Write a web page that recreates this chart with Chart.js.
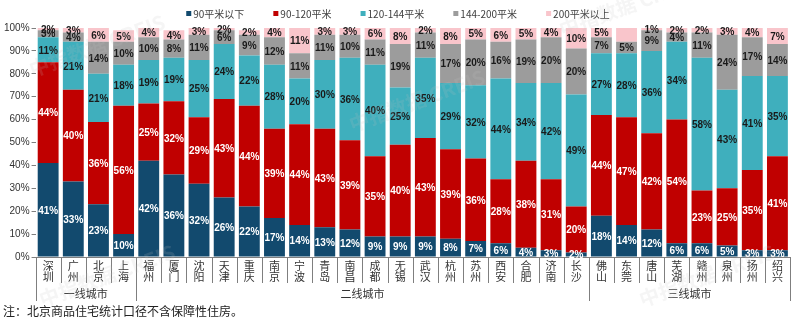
<!DOCTYPE html>
<html>
<head>
<meta charset="utf-8">
<script src="https://cdn.jsdelivr.net/npm/chart.js@4"></script>
<style>
  html, body { margin: 0; padding: 0; background: #fff; }
  #wrap { width: 796px; height: 326px; }
</style>
</head>
<body>
<div id="wrap"><canvas id="areaChart"></canvas></div>
<script>
// Cities and their tier grouping
const cities = ['深圳', '广州', '北京', '上海',
    '福州', '厦门', '沈阳', '天津', '重庆', '南京', '宁波', '青岛', '南昌', '成都', '无锡', '武汉', '杭州', '苏州', '西安', '合肥', '济南', '长沙',
    '佛山', '东莞', '唐山', '芜湖', '赣州', '泉州', '扬州', '绍兴'];
const groupNames = ['一线城市', '二线城市', '三线城市'];
const groupSizes = [4, 18, 8];

// Share of sales by unit size (%)
const below90 = [41, 33, 23, 10, 42, 36, 32, 26, 22, 17, 14, 13, 12, 9, 9, 9, 8, 7, 6, 4, 3, 2, 18, 14, 12, 6, 6, 5, 3, 3];
const from90to120 = [44, 40, 36, 56, 25, 32, 29, 43, 44, 39, 44, 43, 39, 35, 40, 43, 39, 36, 28, 38, 31, 20, 44, 47, 42, 54, 23, 25, 35, 41];
const from120to144 = [11, 21, 21, 18, 19, 19, 25, 24, 22, 28, 20, 30, 36, 40, 25, 35, 29, 32, 44, 34, 42, 49, 27, 28, 36, 34, 58, 43, 41, 35];
const from144to200 = [3, 4, 14, 10, 10, 8, 11, 6, 9, 12, 11, 11, 10, 11, 19, 11, 17, 20, 16, 19, 20, 20, 7, 5, 9, 4, 11, 24, 17, 14];
const above200 = [2, 3, 6, 5, 4, 4, 3, 2, 2, 4, 11, 3, 3, 6, 8, 2, 8, 5, 6, 5, 4, 10, 5, 6, 1, 2, 2, 3, 4, 7];
const yTicks = [0, 10, 20, 30, 40, 50, 60, 70, 80, 90, 100];

const FONT = "'Liberation Sans', 'Noto Sans CJK SC', sans-serif";
const CJK = "'Noto Sans CJK SC', 'Liberation Sans', sans-serif";

// value labels inside every segment
const segmentLabels = {
    id: 'segmentLabels',
    afterDatasetsDraw(chart) {
        const ctx = chart.ctx;
        ctx.save();
        ctx.font = 'bold 10px ' + FONT;
        ctx.textAlign = 'center';
        ctx.textBaseline = 'middle';
        chart.data.datasets.forEach((ds, di) => {
            chart.getDatasetMeta(di).data.forEach((bar, i) => {
                if (ds.skip && ds.skip.includes(i)) return;
                const top = Math.max(bar.y, chart.chartArea.top);
                const y = (top + bar.base) / 2;
                ctx.fillStyle = ds.labelColor;
                ctx.fillText(ds.data[i] + '%', bar.x, y + 1);
            });
        });
        ctx.restore();
    }
};

// compact legend row above the plot
const topLegend = {
    id: 'topLegend',
    afterDraw(chart) {
        const ctx = chart.ctx;
        const gap = 29, box = 5;
        ctx.save();
        ctx.font = '10px ' + CJK;
        ctx.textBaseline = 'middle';
        const items = chart.data.datasets.map(ds => ({ ds, w: box + 2 + ctx.measureText(ds.label).width }));
        const total = items.reduce((s, it) => s + it.w, 0) + gap * (items.length - 1);
        let x = 398 - total / 2;
        items.forEach(it => {
            ctx.fillStyle = it.ds.backgroundColor;
            ctx.fillRect(x, 11, box, box);
            ctx.fillStyle = '#404040';
            ctx.fillText(it.ds.label, x + box + 2, 14);
            x += it.w + gap;
        });
        ctx.restore();
    }
};

// category separators, tier brackets, note and watermark
const tierAxis = {
    id: 'tierAxis',
    afterDraw(chart) {
        const ctx = chart.ctx;
        const xs = chart.scales.x;
        const area = chart.chartArea;
        const bottom = area.bottom;
        const edge = i => {
            if (i <= 0) return area.left;
            if (i >= cities.length) return area.right;
            return (xs.getPixelForValue(i - 1) + xs.getPixelForValue(i)) / 2;
        };
        ctx.save();
        ctx.strokeStyle = '#7f7f7f';
        ctx.lineWidth = 1;
        const starts = [0];
        groupSizes.forEach((n, g) => starts.push(starts[g] + n));
        for (let i = 0; i <= cities.length; i++) {
            const x = Math.round(edge(i)) + 0.5;
            const isGroup = starts.includes(i);
            ctx.beginPath();
            ctx.moveTo(x, bottom);
            ctx.lineTo(x, bottom + (isGroup ? 44 : 26));
            ctx.stroke();
        }
        ctx.fillStyle = '#333';
        ctx.font = '11px ' + CJK;
        ctx.textAlign = 'center';
        ctx.textBaseline = 'middle';
        groupNames.forEach((name, g) => {
            const x = (edge(starts[g]) + edge(starts[g + 1])) / 2;
            ctx.fillText(name, x, bottom + 37);
        });
        ctx.textAlign = 'left';
        ctx.font = '12px ' + CJK;
        ctx.fillStyle = '#222';
        ctx.fillText('注：北京商品住宅统计口径不含保障性住房。', 3, bottom + 54);

        ctx.font = 'bold 20px ' + CJK;
        ctx.fillStyle = 'rgba(190, 190, 190, 0.16)';
        [[30, 70], [350, 125], [560, 30], [40, 300], [640, 300]].forEach(([x, y]) => {
            ctx.save();
            ctx.translate(x, y);
            ctx.rotate(-0.35);
            ctx.fillText('中指数据 CREIS', 0, 0);
            ctx.restore();
        });
        ctx.restore();
    }
};

const ctx = document.getElementById('areaChart').getContext('2d');
new Chart(ctx, {
    type: 'bar',
    data: {
        labels: cities,
        datasets: [
            { label: '90平米以下', data: below90, backgroundColor: '#124a6e', labelColor: '#ffffff' },
            { label: '90-120平米', data: from90to120, backgroundColor: '#c00000', labelColor: '#ffffff' },
            { label: '120-144平米', data: from120to144, backgroundColor: '#3fafbd', labelColor: '#1a1a1a' },
            { label: '144-200平米', data: from144to200, backgroundColor: '#9c9c9c', labelColor: '#1a1a1a' },
            { label: '200平米以上', data: above200, backgroundColor: '#f9c5cb', labelColor: '#1a1a1a', skip: [23] }
        ]
    },
    options: {
        responsive: true,
        maintainAspectRatio: false,
        animation: false,
        layout: { padding: { left: 2, right: 6, top: 28, bottom: 41 } },
        datasets: { bar: { barPercentage: 0.83, categoryPercentage: 1 } },
        plugins: {
            legend: { display: false },
            tooltip: { enabled: false }
        },
        scales: {
            x: {
                stacked: true,
                grid: { display: false, drawTicks: false },
                border: { display: true, color: '#7f7f7f' },
                ticks: {
                    autoSkip: false,
                    maxRotation: 0,
                    padding: 3,
                    color: '#333',
                    font: { size: 11, family: CJK, lineHeight: 1.0 },
                    callback: function(value) { return cities[value].split(''); }
                }
            },
            y: {
                stacked: true,
                min: 0,
                max: 100,
                afterBuildTicks: axis => { axis.ticks = yTicks.map(v => ({ value: v })); },
                grid: { drawOnChartArea: false, tickLength: 4, color: '#7f7f7f' },
                border: { display: false },
                ticks: {
                    padding: 2,
                    color: '#333',
                    font: { size: 10, family: FONT },
                    callback: v => v + '%'
                }
            }
        }
    },
    plugins: [segmentLabels, topLegend, tierAxis]
});
</script>
</body>
</html>
